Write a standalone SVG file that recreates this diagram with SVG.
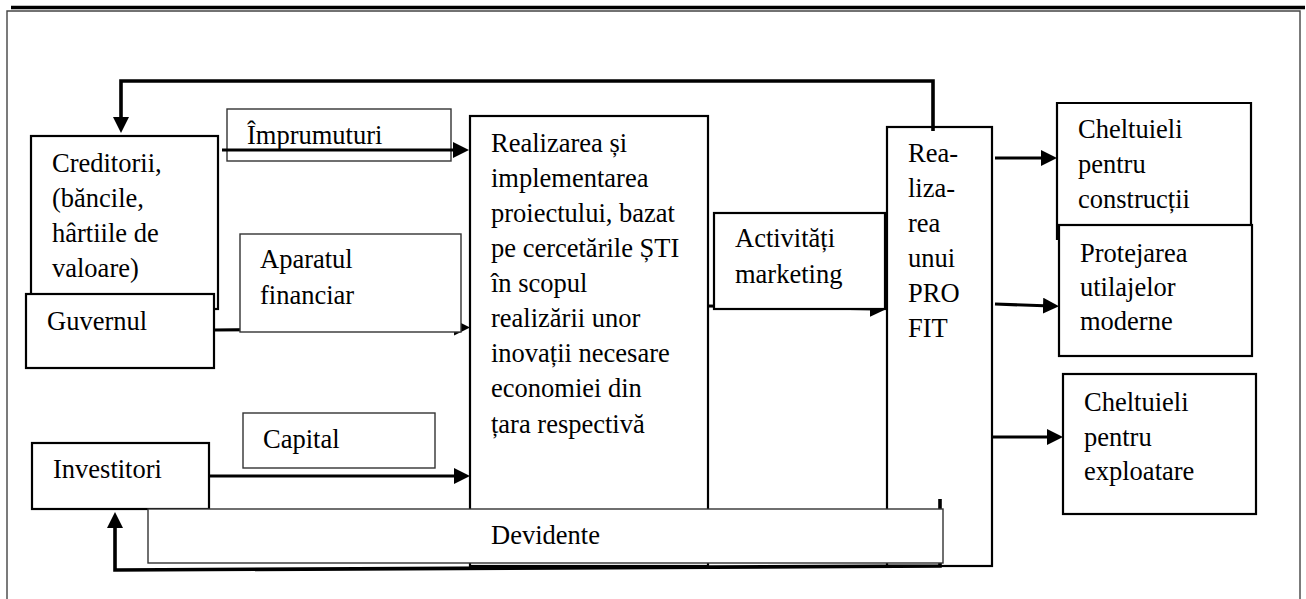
<svg xmlns="http://www.w3.org/2000/svg" width="1306" height="599" viewBox="0 0 1306 599">
<style>
text{font-family:"Liberation Serif","Times New Roman",serif;font-size:26.5px;fill:#000}
.thick{fill:#fff;stroke:#000;stroke-width:2.2}
.thin{fill:#fff;stroke:#333;stroke-width:1.4}
.con{fill:none;stroke:#000;stroke-width:3.2}
.fb{fill:none;stroke:#000;stroke-width:3.6}
</style>
<defs>
<marker id="ah" viewBox="0 0 16 16" refX="8" refY="8" markerWidth="16" markerHeight="16" markerUnits="userSpaceOnUse" orient="auto">
<path d="M0,0 L16,8 L0,16 z" fill="#000"/>
</marker>
</defs>
<rect width="1306" height="599" fill="#fff"/>
<line x1="11" y1="7.5" x2="1305" y2="7.5" stroke="#000" stroke-width="3.6"/>
<path d="M7,605 V11 H1300 V605" fill="none" stroke="#444" stroke-width="1.4"/>

<g id="creditorii">
<rect class="thick" x="31" y="136" width="187" height="173"/>
<text x="52" y="172">Creditorii,</text>
<text x="52" y="207">(băncile,</text>
<text x="52" y="242">hârtiile de</text>
<text x="52" y="277">valoare)</text>
</g>
<g id="guvernul">
<rect class="thick" x="26" y="294" width="188" height="74"/>
<text x="47" y="330">Guvernul</text>
</g>
<g id="investitori">
<rect class="thick" x="32" y="443" width="177" height="66"/>
<text x="53" y="478">Investitori</text>
</g>
<g id="imprumuturi">
<rect class="thin" x="227" y="109" width="224" height="52"/>
<text x="247" y="144">Împrumuturi</text>
</g>
<g id="capital">
<rect class="thin" x="243" y="413" width="192" height="55"/>
<text x="263" y="448">Capital</text>
</g>
<g id="proiect">
<rect class="thick" x="470" y="116" width="238" height="450"/>
<text x="491" y="152">Realizarea și</text>
<text x="491" y="187">implementarea</text>
<text x="491" y="222">proiectului, bazat</text>
<text x="491" y="257">pe cercetările ȘTI</text>
<text x="491" y="292">în scopul</text>
<text x="491" y="327">realizării unor</text>
<text x="491" y="362">inovații necesare</text>
<text x="491" y="397">economiei din</text>
<text x="491" y="433">țara respectivă</text>
</g>
<g id="profit">
<rect class="thick" x="887" y="127" width="105" height="439"/>
<text x="908" y="162">Rea-</text>
<text x="908" y="197">liza-</text>
<text x="908" y="232">rea</text>
<text x="908" y="267">unui</text>
<text x="908" y="302">PRO</text>
<text x="908" y="337">FIT</text>
</g>
<g id="constructii">
<rect x="1057" y="103" width="194" height="122" fill="#fff"/>
<path d="M1057,240 V103 H1251 V225" fill="none" stroke="#000" stroke-width="2.2"/>
<text x="1078" y="138">Cheltuieli</text>
<text x="1078" y="173">pentru</text>
<text x="1078" y="208">construcții</text>
</g>
<g id="protejarea">
<rect class="thick" x="1059" y="225" width="193" height="131"/>
<text x="1080" y="262">Protejarea</text>
<text x="1080" y="296">utilajelor</text>
<text x="1080" y="330">moderne</text>
</g>
<g id="exploatare">
<rect class="thick" x="1063" y="374" width="193" height="140"/>
<text x="1084" y="411">Cheltuieli</text>
<text x="1084" y="446">pentru</text>
<text x="1084" y="480">exploatare</text>
</g>

<g id="connectors">
<polyline class="fb" points="933,131 933,81 121,81 121,125" marker-end="url(#ah)"/>
<line class="con" x1="222" y1="150" x2="461" y2="150" marker-end="url(#ah)"/>
<line class="con" x1="214" y1="330" x2="462" y2="327.5" marker-end="url(#ah)"/>
<line class="con" x1="209" y1="476" x2="462" y2="476" marker-end="url(#ah)"/>
<line class="con" x1="708" y1="306" x2="878" y2="309" marker-end="url(#ah)"/>
<line class="con" x1="995" y1="158" x2="1049" y2="158" marker-end="url(#ah)"/>
<line class="con" x1="995" y1="304" x2="1051" y2="306" marker-end="url(#ah)"/>
<line class="con" x1="992" y1="437" x2="1055" y2="437" marker-end="url(#ah)"/>
<polyline class="fb" points="940,499 940,566 115,570 115,520" marker-end="url(#ah)"/>
</g>

<g id="aparatul">
<rect class="thin" x="240" y="234" width="221" height="98"/>
<text x="260" y="268">Aparatul</text>
<text x="260" y="304">financiar</text>
</g>
<g id="activitati">
<rect class="thick" x="714" y="213" width="171" height="96"/>
<text x="735" y="247">Activități</text>
<text x="735" y="283">marketing</text>
</g>
<g id="devidente">
<rect class="thin" x="148" y="509" width="795" height="54"/>
<text x="491" y="544">Devidente</text>
</g>
</svg>
